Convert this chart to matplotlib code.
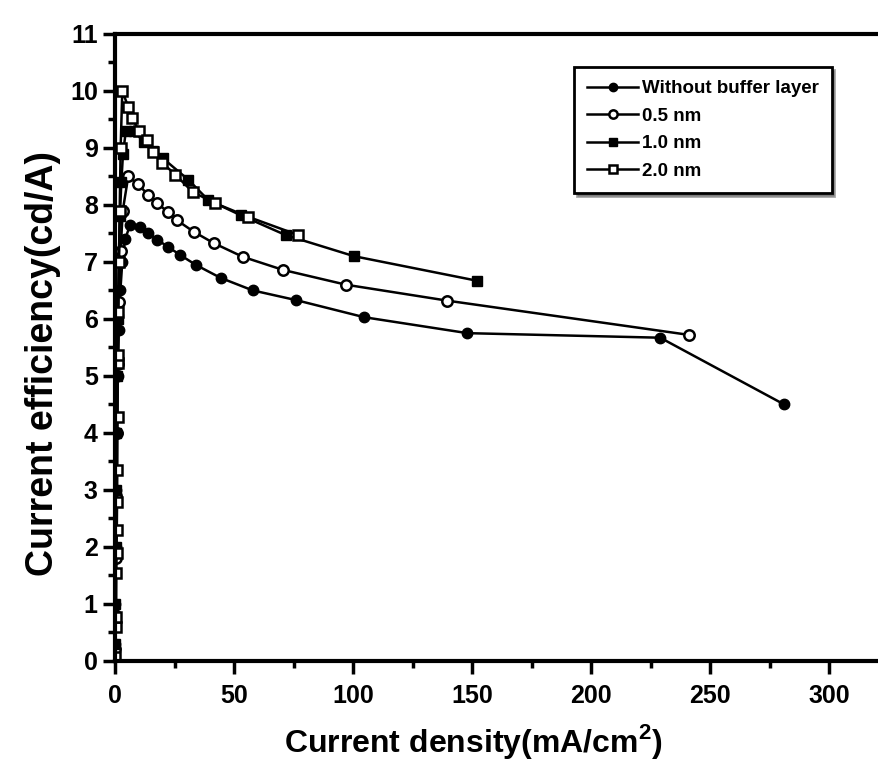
import matplotlib.pyplot as plt
from matplotlib.ticker import MultipleLocator

# --- data ---
# Without buffer layer
x_none = [0.05, 0.1, 0.2, 0.4, 0.7, 1.0, 1.5, 2.2, 3.0, 4.2,
          6.3, 10.5, 14, 17.7, 22, 27.4, 33.8, 44.3, 57.8, 76, 104.6, 148, 229, 281]
y_none = [0.3, 1.0, 2.0, 3.0, 4.0, 5.0, 5.8, 6.5, 7.0, 7.4,
          7.65, 7.61, 7.5, 7.39, 7.27, 7.12, 6.95, 6.72, 6.5, 6.33, 6.03, 5.75, 5.67, 4.5]

# 0.5 nm
x_05 = [0.05, 0.1, 0.2, 0.4, 0.7, 1.1, 1.6, 2.3, 3.2,
        5.5, 9.7, 14, 17.7, 22, 26, 33, 41.4, 53.6, 70.5, 97, 139.6, 241]
y_05 = [0.2, 0.8, 1.8, 2.9, 4.0, 5.2, 6.3, 7.2, 7.9,
        8.5, 8.36, 8.17, 8.03, 7.88, 7.73, 7.53, 7.33, 7.09, 6.86, 6.6, 6.32, 5.72]

# 1.0 nm
x_10 = [0.05, 0.1, 0.2, 0.35, 0.55, 0.8, 1.1, 1.5, 2.0, 2.6, 3.3, 4.5,
        8, 12, 16, 20, 30.8, 39, 52.7, 71.7, 100.4, 152]
y_10 = [0.3, 1.0, 2.0, 3.0, 4.0, 5.0, 6.0, 7.0, 7.8, 8.4, 8.9, 9.3,
        9.3, 9.1, 8.95, 8.82, 8.44, 8.09, 7.82, 7.47, 7.1, 6.67]

# 2.0 nm
x_20 = [0.1, 0.3, 0.4, 0.5, 0.6, 0.7, 0.8, 0.9, 1.0, 1.1, 1.2, 1.4, 1.6, 1.9, 2.3,
        3, 5.5, 7.2, 10, 13.5, 16, 19.8, 25.3, 32.5, 42, 56, 77]
y_20 = [0.07, 0.6, 0.77, 1.54, 1.89, 2.3, 2.79, 3.35, 4.28, 5.23, 5.37, 6.12, 7.0, 7.9, 9.0,
        10.0, 9.72, 9.52, 9.3, 9.14, 8.93, 8.74, 8.53, 8.23, 8.03, 7.79, 7.47]

plt.rcParams['font.family'] = ['Liberation Sans', 'DejaVu Sans']
plt.rcParams['font.weight'] = 'bold'
plt.rcParams['mathtext.fontset'] = 'custom'
plt.rcParams['mathtext.rm'] = 'Liberation Sans:bold'
plt.rcParams['mathtext.bf'] = 'Liberation Sans:bold'

fig = plt.figure(figsize=(8.79, 7.72), dpi=100)
ax = fig.add_axes([0.131, 0.144, 0.872, 0.812])

lw = 1.8
ms = 7.5
ax.plot(x_none, y_none, '-o', color='black', mfc='black', ms=ms, lw=lw, label='Without buffer layer')
ax.plot(x_05, y_05, '-o', color='black', mfc='white', mew=1.8, ms=ms, lw=lw, label='0.5 nm')
ax.plot(x_10, y_10, '-s', color='black', mfc='black', ms=ms, lw=lw, label='1.0 nm')
ax.plot(x_20, y_20, '-s', color='black', mfc='white', mew=1.8, ms=ms, lw=lw, label='2.0 nm')

ax.set_xlim(0, 322)
ax.set_ylim(0, 11)
ax.xaxis.set_major_locator(MultipleLocator(50))
ax.xaxis.set_minor_locator(MultipleLocator(25))
ax.yaxis.set_major_locator(MultipleLocator(1))
ax.yaxis.set_minor_locator(MultipleLocator(0.5))
ax.tick_params(which='both', direction='out', top=False, right=False, width=2.5)
ax.tick_params(which='major', length=9, labelsize=18)
ax.tick_params(axis='x', which='major', pad=8)
ax.tick_params(which='minor', length=5)
for s in ax.spines.values():
    s.set_linewidth(3)
ax.spines['right'].set_visible(False)

ax.set_xlabel(r'Current density(mA/cm$^\mathbf{2}$)', fontsize=23, fontweight='bold')
ax.xaxis.set_label_coords(0.467, -0.098)
ax.set_ylabel('Current efficiency(cd/A)', fontsize=27, fontweight='bold')
ax.yaxis.set_label_coords(-0.07, 0.475)

leg = ax.legend(loc='upper right', bbox_to_anchor=(0.947, 0.962), fancybox=False, shadow=True,
                edgecolor='black', fontsize=13.5, handlelength=2.7, borderpad=0.7,
                labelspacing=0.55, handletextpad=0.2, framealpha=1, markerscale=0.8)
leg.get_frame().set_linewidth(2)

fig.savefig('out.png', dpi=100)
